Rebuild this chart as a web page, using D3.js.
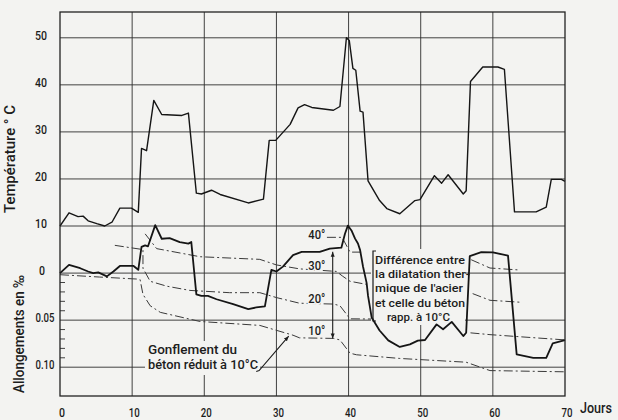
<!DOCTYPE html>
<html>
<head>
<meta charset="UTF-8">
<title>Température et allongements</title>
<script src="https://d3js.org/d3.v7.min.js"></script>
<style>
  body { margin: 0; background: #f3f3f1; }
  svg { display: block; }
  text {
    font-family: Roboto, "DejaVu Sans", sans-serif;
    font-weight: 500;
    fill: #1c1c1c;
  }
  .grid { stroke: #2e2e2e; stroke-width: 0.9; }
  .dash { fill: none; stroke: #3a3a3a; stroke-width: 1; stroke-dasharray: 9,3,2,3; }
</style>
</head>
<body>
<div id="chart"></div>
<script>
// Température (°C) — jours
const tempDays = [0, 1.25, 2.5, 3.2, 3.9, 5.1, 6.2, 7.2, 8.3, 9.9, 10.85, 11.3, 12.0, 13.0, 14.1, 16.9, 17.8, 18.9, 19.6, 21.0,
  22.2, 26.1, 28.2, 29.0, 29.9, 31.9, 33.0, 33.9, 34.9, 37.9, 38.8, 39.7, 40.1, 40.6, 41.0, 41.6, 42.0, 42.7, 44.3, 45.3,
  47.1, 49.2, 49.9, 51.9, 52.9, 53.8, 55.9, 56.3, 56.9, 58.6, 60.7, 61.6, 63.0, 66.0, 67.4, 68.1, 69.5, 70];
const tempVals = [10, 12.8, 12.0, 12.1, 11.1, 10.5, 10.0, 10.8, 13.8, 13.8, 12.9, 26.5, 26.0, 36.7, 33.7, 33.5, 34.0, 17.0, 16.8, 17.6,
  16.7, 14.9, 15.7, 28.2, 28.2, 31.6, 35.1, 35.8, 35.2, 34.6, 35.4, 50.0, 49.4, 43.5, 43.1, 34.4, 34.2, 19.6, 15.4, 13.7,
  12.6, 15.4, 15.6, 20.7, 19.1, 20.9, 16.8, 17.5, 40.7, 43.8, 43.8, 43.3, 13.0, 13.0, 14.0, 19.9, 19.9, 19.5];

// Allongement mesuré (‰, vers le bas = raccourcissement)
const measDays = [0, 1.25, 2.8, 3.9, 4.6, 5.3, 6.5, 7.4, 8.3, 10.2, 10.85, 11.3, 11.8, 12.2, 13.2, 14.1, 15.2, 16.6, 17.8, 18.2,
  18.9, 19.6, 20.5, 21.7, 24.0, 26.1, 27.2, 28.4, 29.3, 30.0, 30.9, 32.3, 33.5, 36.0, 37.4, 39.0, 39.5, 39.9, 40.4, 40.9,
  41.3, 41.6, 42.0, 42.5, 42.7, 43.2, 44.3, 45.5, 47.1, 48.5, 49.6, 50.6, 52.2, 53.1, 54.3, 55.9, 56.3, 56.8, 58.4, 60.0,
  62.1, 63.3, 65.6, 67.4, 68.3, 70];
const measVals = [0, -0.0087, -0.0052, -0.0017, 0, -0.0007, 0.0035, -0.0017, -0.0076, -0.0076, -0.0035, -0.0278, -0.0295, -0.0285, -0.051, -0.0365, -0.0372, -0.033, -0.0313, -0.033,
  0.0226, 0.0243, 0.0243, 0.0278, 0.033, 0.0382, 0.0365, 0.0354, -0.0035, -0.0017, -0.0069, -0.0191, -0.0226, -0.0226, -0.0261, -0.027, -0.0418, -0.0505, -0.0453, -0.0366,
  -0.0314, -0.0244, -0.007, 0.0104, 0.0243, 0.0471, 0.061, 0.0715, 0.0785, 0.0758, 0.0718, 0.0711, 0.0545, 0.0597, 0.0519, 0.0669, 0.0634, -0.0181, -0.0222, -0.0221,
  -0.0185, 0.0864, 0.09, 0.0901, 0.0746, 0.0712];

// gonflement du béton réduit à 10°, 20°, 30°, 40° (null = interrompu)
const c10Days = [0, 5.5, 10.6, 11.1, 11.5, 12.5, 13.9, 19.4, 27.7, 30.0, 32.3, 33.2, 37.9, 38.8, 40.2, 41.1, 47.1, 56.3, 59.6, 70];
const c10Vals = [0.0017, 0.0042, 0.0063, 0.0069, 0.0226, 0.0347, 0.0417, 0.0514, 0.0556, 0.0608, 0.066, 0.0688, 0.0694, 0.071, 0.0851, 0.0868, 0.0907, 0.0947, 0.1036, 0.1049];
const c20Days = [7.6, 11.5, 11.5, 12.5, 14.8, 18.0, 23.5, 27.7, 30.0, 33.2, 37.9, 38.8, 40.2, 43.4, null, 56.9, 59.6, 70];
const c20Vals = [-0.0295, -0.025, -0.0052, 0.0087, 0.0139, 0.0184, 0.0208, 0.0208, 0.026, 0.032, 0.0329, 0.0346, 0.0486, 0.0488, null, 0.0635, 0.0654, 0.071];
const c30Days = [11.8, 13.4, 19.4, 27.7, 30.0, 33.2, 38.3, 39.2, 40.2, 42.5, null, 57.2, 59.6, 63.7];
const c30Vals = [-0.0417, -0.026, -0.0174, -0.0146, -0.0087, -0.0045, -0.0018, 0.0034, 0.0087, 0.012, null, 0.0218, 0.0289, 0.0309];
const c40Days = [37.0, 39.1, 40.2, 42.0, null, 57.0, 59.6, 63.5];
const c40Vals = [-0.038, -0.038, -0.0223, -0.0223, null, -0.0142, -0.0054, -0.0034];

const dayTicks = [0, 10, 20, 30, 40, 50, 60, 70];
const tempTicks = [10, 20, 30, 40, 50];
const strainTicks = [0, 0.05, 0.10];
const strainLabels = ["0", "0.05", "0.10"];
const degLabels = ["40°", "30°", "20°", "10°"];
const diffLines = ["Différence entre", "la dilatation ther-", "mique de l'acier", "et celle du béton", "rapp. à 10°C"];
const swellLines = ["Gonflement du", "béton réduit à 10°C"];

const width = 618, height = 420;
const frameTop = 12, frameBottom = 396;
const paper = "#f3f3f1";

const x = d3.scaleLinear().domain([0, 70]).range([60, 565]);
const yT = d3.scaleLinear().domain([10, 50]).range([226, 37.8]);
const yA = d3.scaleLinear().domain([0, 0.10]).range([273.1, 367.2]);

// squeeze text to the narrow lettering of the drawing
function narrow(sel, w) {
  sel.attr("textLength", w).attr("lengthAdjust", "spacingAndGlyphs");
}

const svg = d3.select("#chart").append("svg")
  .attr("width", width)
  .attr("height", height);

svg.append("rect").attr("width", width).attr("height", height).attr("fill", paper);

const defs = svg.append("defs");
defs.append("marker")
  .attr("id", "ah")
  .attr("viewBox", "0 0 10 10")
  .attr("refX", 10).attr("refY", 5)
  .attr("markerWidth", 5).attr("markerHeight", 5)
  .attr("markerUnits", "userSpaceOnUse")
  .attr("orient", "auto-start-reverse")
  .append("path").attr("d", "M0,1L10,5L0,9Z").attr("fill", "#1c1c1c");

// grid
const g = svg.append("g");
g.selectAll("line.v").data(dayTicks.slice(1, -1)).join("line")
  .attr("class", "grid")
  .attr("x1", d => x(d)).attr("x2", d => x(d))
  .attr("y1", frameTop).attr("y2", frameBottom);
g.selectAll("line.t").data(tempTicks).join("line")
  .attr("class", "grid")
  .attr("x1", x(0)).attr("x2", x(70))
  .attr("y1", d => yT(d)).attr("y2", d => yT(d));
g.selectAll("line.a").data(strainTicks).join("line")
  .attr("class", "grid")
  .attr("x1", x(0)).attr("x2", x(70))
  .attr("y1", d => yA(d)).attr("y2", d => yA(d));

// minor ticks on the strain axis
const minor = yA.ticks(13).filter(d => d > 0.001 && d < 0.13 && Math.abs(d * 20 - Math.round(d * 20)) > 0.01);
g.selectAll("line.m").data(minor).join("line")
  .attr("stroke", "#2e2e2e").attr("stroke-width", 0.9)
  .attr("x1", x(0)).attr("x2", x(0) + 5)
  .attr("y1", d => yA(d)).attr("y2", d => yA(d));

// swelling curves
const strainLine = d3.line()
  .defined(d => d[1] !== null)
  .x(d => x(d[0]))
  .y(d => yA(d[1]));

const curves = [
  [c10Days, c10Vals, 1.4],
  [c20Days, c20Vals, 1.0],
  [c30Days, c30Vals, 1.0],
  [c40Days, c40Vals, 1.0]
];
curves.forEach(([ds, vs, w]) => {
  svg.append("path")
    .datum(ds.map((d, i) => [d, vs[i]]))
    .attr("class", "dash")
    .attr("stroke-width", w)
    .attr("d", strainLine);
});

// blank areas behind the notes
svg.append("rect").attr("x", 371).attr("y", 249).attr("width", 94).attr("height", 76).attr("fill", paper);
svg.append("rect").attr("x", 145).attr("y", 341).attr("width", 115).attr("height", 34).attr("fill", paper);

// measured elongation
svg.append("path")
  .datum(measDays.map((d, i) => [d, measVals[i]]))
  .attr("fill", "none").attr("stroke", "#151515").attr("stroke-width", 1.8)
  .attr("stroke-linejoin", "round")
  .attr("d", strainLine);

// temperature
svg.append("path")
  .datum(tempDays.map((d, i) => [d, tempVals[i]]))
  .attr("fill", "none").attr("stroke", "#151515").attr("stroke-width", 1.4)
  .attr("stroke-linejoin", "round")
  .attr("d", d3.line().x(d => x(d[0])).y(d => yT(d[1])));

// frame
svg.append("rect")
  .attr("x", x(0)).attr("y", frameTop)
  .attr("width", x(70) - x(0)).attr("height", frameBottom - frameTop)
  .attr("fill", "none").attr("stroke", "#222").attr("stroke-width", 1.3);

// axis labels
svg.selectAll("text.xt").data(dayTicks).join("text")
  .attr("x", d => x(d) + 2).attr("y", 417)
  .attr("text-anchor", "middle").attr("font-size", 12.5)
  .each(function (d) { narrow(d3.select(this), d === 0 ? 6 : 11); })
  .text(d => d);
narrow(svg.append("text").attr("x", 580).attr("y", 413).attr("font-size", 14).text("Jours"), 32);

svg.selectAll("text.yt").data(tempTicks).join("text")
  .attr("x", 41).attr("y", d => yT(d) + 2)
  .attr("text-anchor", "middle").attr("font-size", 12)
  .each(function () { narrow(d3.select(this), 12); })
  .text(d => d);
svg.selectAll("text.ya").data(strainTicks).join("text")
  .attr("x", (d, i) => i === 0 ? 42 : 45).attr("y", d => yA(d) + 2)
  .attr("text-anchor", "middle").attr("font-size", 12)
  .each(function (d, i) { narrow(d3.select(this), i === 0 ? 6 : 19); })
  .text((d, i) => strainLabels[i]);

narrow(svg.append("text")
  .attr("transform", "translate(15,159) rotate(-90)")
  .attr("text-anchor", "middle").attr("font-size", 14)
  .text("Température ° C"), 108);
narrow(svg.append("text")
  .attr("transform", "translate(24,334) rotate(-90)")
  .attr("text-anchor", "middle").attr("font-size", 14)
  .text("Allongements en ‰"), 118);

// temperature level labels
const degY = [-0.041, -0.0085, 0.0265, 0.0615];
svg.selectAll("text.deg").data(degLabels).join("text")
  .attr("x", x(35.6)).attr("y", (d, i) => yA(degY[i]) + 4.5)
  .attr("text-anchor", "middle").attr("font-size", 12.5)
  .attr("stroke", paper).attr("stroke-width", 3).attr("paint-order", "stroke")
  .each(function () { narrow(d3.select(this), 17); })
  .text(d => d);

// double arrow: difference steel/concrete
svg.append("line")
  .attr("x1", x(37.8)).attr("x2", x(37.8))
  .attr("y1", yA(-0.0226)).attr("y2", yA(0.0694))
  .attr("stroke", "#1c1c1c").attr("stroke-width", 1.1)
  .attr("marker-start", "url(#ah)").attr("marker-end", "url(#ah)");

// bracket + note
svg.append("path")
  .attr("d", "M376,251H373V321H376")
  .attr("fill", "none").attr("stroke", "#1c1c1c").attr("stroke-width", 1.2);
const diffW = [90, 95, 88, 90, 63];
svg.selectAll("text.diff").data(diffLines).join("text")
  .attr("x", (d, i) => i === 4 ? 387 : 375)
  .attr("y", (d, i) => 264 + i * 14.2)
  .attr("font-size", 11.8)
  .each(function (d, i) { narrow(d3.select(this), diffW[i]); })
  .text(d => d);

const swellW = [89, 110];
svg.selectAll("text.sw").data(swellLines).join("text")
  .attr("x", 148).attr("y", (d, i) => 354 + i * 14.5)
  .attr("font-size", 12.2)
  .each(function (d, i) { narrow(d3.select(this), swellW[i]); })
  .text(d => d);
svg.append("path")
  .attr("d", `M${x(27.2)},${yA(0.1045)}L${x(27.6)},${yA(0.1035)}L${x(31.7)},${yA(0.067)}`)
  .attr("fill", "none").attr("stroke", "#1c1c1c").attr("stroke-width", 1.1)
  .attr("marker-end", "url(#ah)");
</script>
</body>
</html>
